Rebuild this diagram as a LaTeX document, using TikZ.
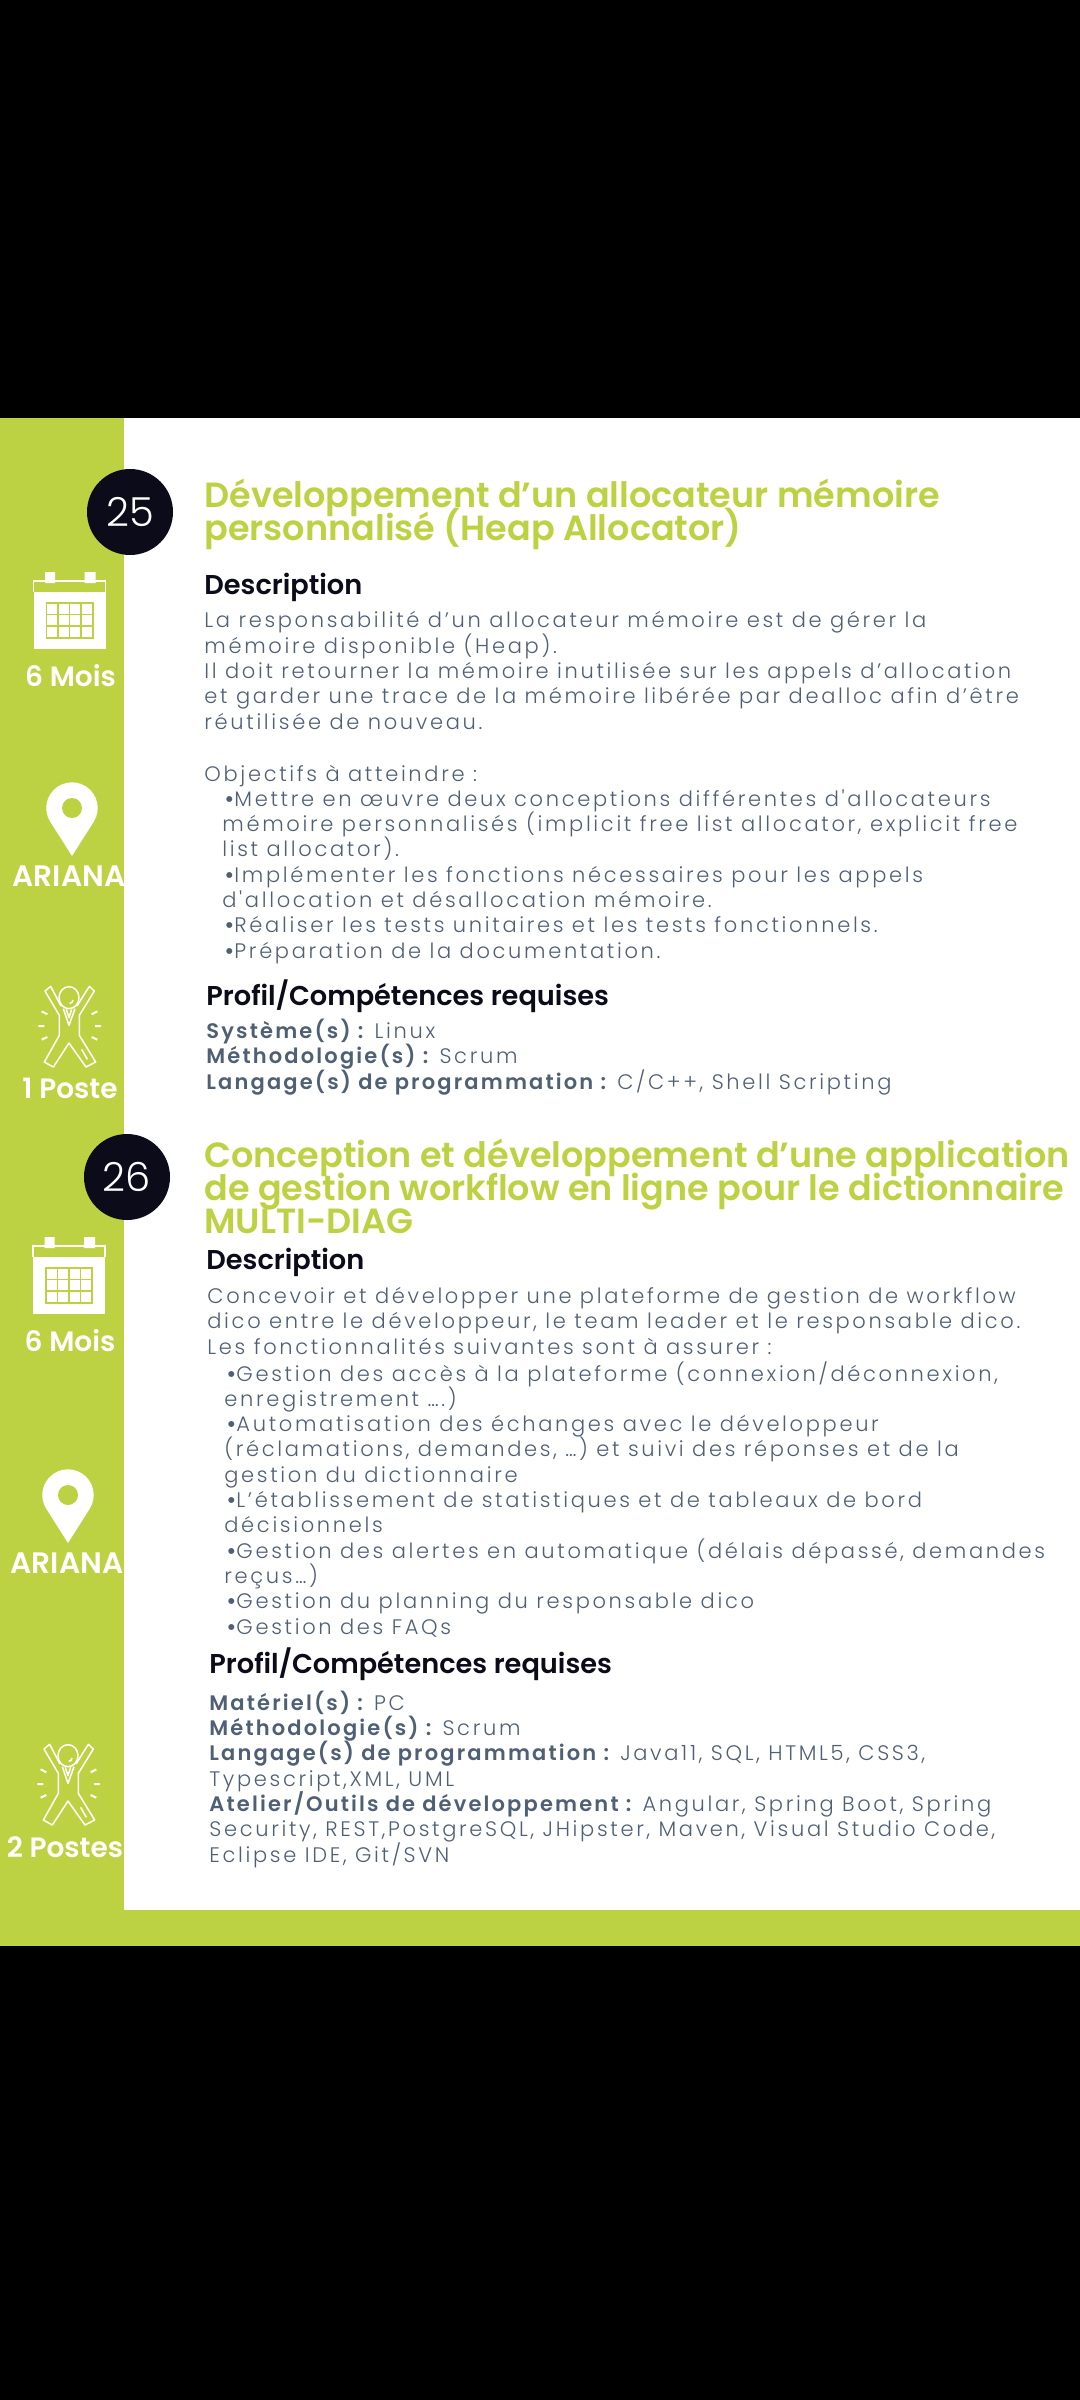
\documentclass[tikz,border=0pt]{standalone}
\usepackage{fontspec}
\setmainfont{Poppins}
\newfontfamily\bodyfont[LetterSpace=12.7]{Poppins Light}
\newfontfamily\strongfont[LetterSpace=10.3]{Poppins SemiBold}
\newfontfamily\headfont{Poppins SemiBold}
\newfontfamily\numberfont{Poppins Light}
\usetikzlibrary{positioning}
\definecolor{leaf}{HTML}{BDD243}
\definecolor{ink}{HTML}{0B0B1A}
\definecolor{slate}{HTML}{506074}
\newcommand{\tightlines}{\lineskiplimit -20pt\relax}
\tikzset{>=stealth,
	titletext/.style={anchor=base west,inner sep=0pt,align=left,text=leaf,font=\headfont\fontsize{17.5}{16.3}\selectfont\tightlines},
	headtext/.style={anchor=base west,inner sep=0pt,text=ink,font=\headfont\fontsize{13.6}{17}\selectfont},
	bodytext/.style={anchor=base west,inner sep=0pt,align=left,text=slate,font=\bodyfont\fontsize{10.5}{12.65}\selectfont\tightlines},
	sidetext/.style={anchor=base,inner sep=0pt,text=white,font=\headfont\fontsize{14}{17}\selectfont},
	sitetext/.style={sidetext,font=\headfont\fontsize{14.8}{17}\selectfont},
	numbertext/.style={circle,fill=ink,minimum size=43pt,inner sep=0pt,text=white,font=\numberfont\fontsize{20}{24}\selectfont},
	calendaricon/.pic={
		\fill[white] (0,14) rectangle (72,71);
		\draw[white,line width=.6pt] (0,14) -- (0,3) -- (72,3) -- (72,14);
		\fill[white] (11.5,-6) rectangle (21.5,5) (51,-6) rectangle (62,5);
		\fill[leaf] (12,24) rectangle (60,61);
		\foreach \i in {0,1,2,3} \foreach \j in {0,1,2}
			\fill[white] (13.5+\i*11.5,25.5+\j*11.5) rectangle +(10,10);
	},
	pinicon/.pic={
		\fill[white] (0,48) -- (32.4:25.7) arc[start angle=32.4,end angle=-212.4,radius=25.7] -- cycle;
		\fill[leaf] (0,0) circle[radius=10];
	},
	personicon/.pic={
		\begin{scope}[x=.1667pt,y=-.1667pt,white,line width=.75pt,line join=round]
			\draw (-24,-60) -- (-55,-119) -- (-72,-105) -- (-29,-32) -- (-29,28) -- (-74,108) -- (-47,123) -- (0,51) -- (51,123) -- (80,108) -- (31,28) -- (31,-32) -- (76,-105) -- (61,-119) -- (24,-60);
			\draw (0,-85) ellipse[x radius=30,y radius=33];
			\draw (-17,-52) -- (0,-2) -- (18,-52) (-8,-50) -- (0,-25) -- (8,-50);
			\draw[line width=1pt] (-82,-44) -- (-65,-35) (-92,0) -- (-74,0) (-82,41) -- (-65,33);
			\draw[line width=1pt] (85,-44) -- (68,-35) (96,0) -- (78,0) (85,41) -- (68,33);
			\draw (38,70) -- (55,100) (12,-78) arc[start angle=0,end angle=90,radius=10];
		\end{scope}
	},
}
\newcommand{\boldlabel}[1]{{\strongfont #1}}
\newcommand{\bulletmark}{\hspace*{1pt}{\strongfont •}}
\begin{document}
\begin{tikzpicture}[x=.5pt,y=-.5pt]
	\useasboundingbox (0,0) rectangle (1080,2400);
	\fill[black] (0,0) rectangle (1080,2400);
	\fill[leaf] (0,418) rectangle (1080,1946);
	\fill[white] (124,418) rectangle (1080,1910);
	% offre 25
	\node[numbertext] (num25) at (130,512) {25};
	\node[titletext] (title25) at (204,540) {Développement d’un allocateur mémoire\\personnalisé (Heap Allocator)};
	\node[headtext] (desc25) at (204,594) {Description};
	\node[bodytext] (body25) at (204,729) {La responsabilité d’un allocateur mémoire est de gérer la\\mémoire disponible (Heap).\\Il doit retourner la mémoire inutilisée sur les appels d’allocation\\et garder une trace de la mémoire libérée par dealloc afin d’être\\réutilisée de nouveau.};
	\node[bodytext] (goals25) at (204,781) {Objectifs à atteindre :};
	\node[bodytext] (list25) at (222,958) {\bulletmark Mettre en œuvre deux conceptions différentes d'allocateurs\\mémoire personnalisés (implicit free list allocator, explicit free\\list allocator).\\\bulletmark Implémenter les fonctions nécessaires pour les appels\\d'allocation et désallocation mémoire.\\\bulletmark Réaliser les tests unitaires et les tests fonctionnels.\\\bulletmark Préparation de la documentation.};
	\node[headtext] (prof25) at (206,1005) {Profil/Compétences requises};
	\node[bodytext] (req25) at (206,1089) {\boldlabel{Système(s) :} Linux\\\boldlabel{Méthodologie(s) :} Scrum\\\boldlabel{Langage(s) de programmation :} C/C++, Shell Scripting};
	\pic at (33.5,578) {calendaricon};
	\node[sidetext] (time25) at (70.5,686) {6 Mois};
	\pic at (72,808) {pinicon};
	\node[sitetext] (site25) at (69,886) {ARIANA};
	\pic at (69,1026) {personicon};
	\node[sidetext] (post25) at (70,1098) {1 Poste};
	% offre 26
	\node[numbertext] (num26) at (127,1177) {26};
	\node[titletext] (title26) at (204,1233) {Conception et développement d’une application\\de gestion workflow en ligne pour le dictionnaire\\MULTI-DIAG};
	\node[headtext] (desc26) at (206,1269) {Description};
	\node[bodytext] (body26) at (207,1354) {Concevoir et développer une plateforme de gestion de workflow\\dico entre le développeur, le team leader et le responsable dico.\\Les fonctionnalités suivantes sont à assurer :};
	\node[bodytext] (list26) at (224,1634) {\bulletmark Gestion des accès à la plateforme (connexion/déconnexion,\\enregistrement ….)\\\bulletmark Automatisation des échanges avec le développeur\\(réclamations, demandes, …) et suivi des réponses et de la\\gestion du dictionnaire\\\bulletmark L’établissement de statistiques et de tableaux de bord\\décisionnels\\\bulletmark Gestion des alertes en automatique (délais dépassé, demandes\\reçus…)\\\bulletmark Gestion du planning du responsable dico\\\bulletmark Gestion des FAQs};
	\node[headtext] (prof26) at (209,1673) {Profil/Compétences requises};
	\node[bodytext] (req26) at (209,1862) {\boldlabel{Matériel(s) :} PC\\\boldlabel{Méthodologie(s) :} Scrum\\\boldlabel{Langage(s) de programmation :} Java11, SQL, HTML5, CSS3,\\Typescript,XML, UML\\\boldlabel{Atelier/Outils de développement :} Angular, Spring Boot, Spring\\Security, REST,PostgreSQL, JHipster, Maven, Visual Studio Code,\\Eclipse IDE, Git/SVN};
	\pic at (33,1243) {calendaricon};
	\node[sidetext] (time26) at (70,1351) {6 Mois};
	\pic at (68,1495) {pinicon};
	\node[sitetext] (site26) at (67,1573) {ARIANA};
	\pic at (68,1784) {personicon};
	\node[sidetext] (post26) at (65,1857) {2 Postes};
\end{tikzpicture}
\end{document}
